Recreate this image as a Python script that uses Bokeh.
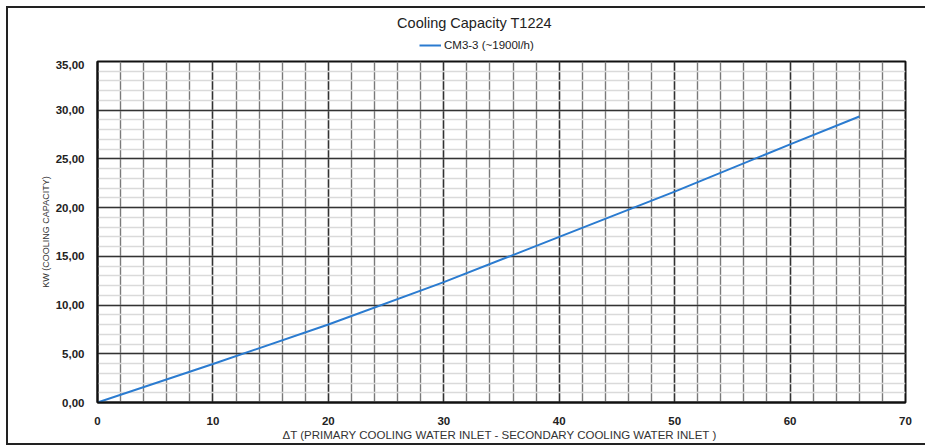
from bokeh.plotting import figure
from bokeh.models import (Legend, LegendItem, SingleIntervalTicker, Range1d, Label)
from bokeh.layouts import column
from bokeh.embed import file_html
from bokeh.resources import INLINE

# data
delta_t = [0, 10, 20, 30, 40, 50, 60, 66]
cooling_kw = [0.0, 3.95, 8.0, 12.35, 17.0, 21.65, 26.5, 29.35]
series_name = "CM3-3 (~1900l/h)"
chart_title = "Cooling Capacity T1224"
x_ticks = [0, 10, 20, 30, 40, 50, 60, 70]
y_ticks = [0, 5, 10, 15, 20, 25, 30, 35]
y_tick_labels = ["0,00", "5,00", "10,00", "15,00", "20,00", "25,00", "30,00", "35,00"]

FONT = "Liberation Sans"
LINE_COLOR = "#2a7bd0"
W = 917
FRAME_W = 808  # header frame is aligned with the chart frame

# ---- header: title + legend ----
hdr = figure(width=W, height=52, output_backend="svg", toolbar_location=None,
             x_range=Range1d(0, FRAME_W), y_range=Range1d(0, 52),
             min_border=0, min_border_left=0, min_border_right=0,
             min_border_top=0, min_border_bottom=0)
hdr.axis.visible = False
hdr.grid.visible = False
hdr.outline_line_color = None
hdr.background_fill_color = "white"
hdr.border_fill_color = "white"
hdr.add_layout(Label(x=377, y=38, text=chart_title, text_align="center",
                     text_baseline="middle", text_font=FONT, text_font_size="14.5px",
                     text_color="#222222"))
# legend sample renderer (kept outside the visible range)
sample = hdr.line(x=[0, 1], y=[-100, -100], line_color=LINE_COLOR, line_width=2)
legend = Legend(items=[LegendItem(label=series_name, renderers=[sample])],
                orientation="horizontal", location=(322, 9),
                label_text_font=FONT, label_text_font_size="11.5px",
                label_text_color="#222222", glyph_width=22, glyph_height=12,
                padding=0, margin=0, border_line_color=None, label_height=12,
                label_standoff=3, background_fill_alpha=0)
hdr.add_layout(legend, "center")

# ---- main chart ----
p = figure(width=W, height=383, output_backend="svg", toolbar_location=None,
           x_range=Range1d(0, 70), y_range=Range1d(0, 35),
           min_border_left=89, min_border_right=20, min_border_bottom=33, min_border_top=1)

r = p.line(delta_t, cooling_kw, line_color=LINE_COLOR, line_width=2)

p.xaxis.ticker = x_ticks
p.yaxis.ticker = y_ticks
p.yaxis.major_label_overrides = {t: l for t, l in zip(y_ticks, y_tick_labels)}
for ax in (p.xaxis[0], p.yaxis[0]):
    ax.major_tick_line_color = None
    ax.minor_tick_line_color = None
    ax.axis_line_color = "#111111"
    ax.axis_line_width = 2
    ax.major_label_text_font = FONT
    ax.major_label_text_font_style = "bold"
    ax.major_label_text_font_size = "11.5px"
    ax.major_label_text_color = "#222222"
    ax.axis_label_text_font = FONT
    ax.axis_label_text_font_style = "normal"
    ax.axis_label_text_color = "#333333"
    ax.axis_label_text_font_size = "11.5px"
p.xaxis.major_label_standoff = 8
p.yaxis.major_label_standoff = 7
p.xaxis.axis_label = "\u0394T (PRIMARY COOLING WATER INLET -  SECONDARY COOLING WATER INLET )"
p.xaxis.axis_label_standoff = 1
p.yaxis.axis_label = "KW (COOLING CAPACITY)"
p.yaxis.axis_label_standoff = 2
p.yaxis.axis_label_text_font_size = "9px"

p.xgrid.ticker = SingleIntervalTicker(interval=10, num_minor_ticks=5)
p.xgrid.grid_line_color = "#333333"
p.xgrid.grid_line_width = 1.4
p.xgrid.minor_grid_line_color = "#7a7a7a"
p.xgrid.minor_grid_line_width = 1.4
p.ygrid.ticker = SingleIntervalTicker(interval=5, num_minor_ticks=5)
p.ygrid.grid_line_color = "#333333"
p.ygrid.grid_line_width = 1.4
p.ygrid.minor_grid_line_color = "#dadada"
p.ygrid.minor_grid_line_width = 1.3

p.outline_line_color = "#111111"
p.outline_line_width = 2
p.background_fill_color = "white"
p.border_fill_color = "white"

layout = column(hdr, p, spacing=0)
layout.styles = {"margin-left": "6px", "margin-top": "6px",
                 "border-left": "2px solid #222222", "border-top": "2px solid #222222",
                 "border-bottom": "2px solid #222222"}

open("out.html", "w").write(file_html(layout, INLINE))
